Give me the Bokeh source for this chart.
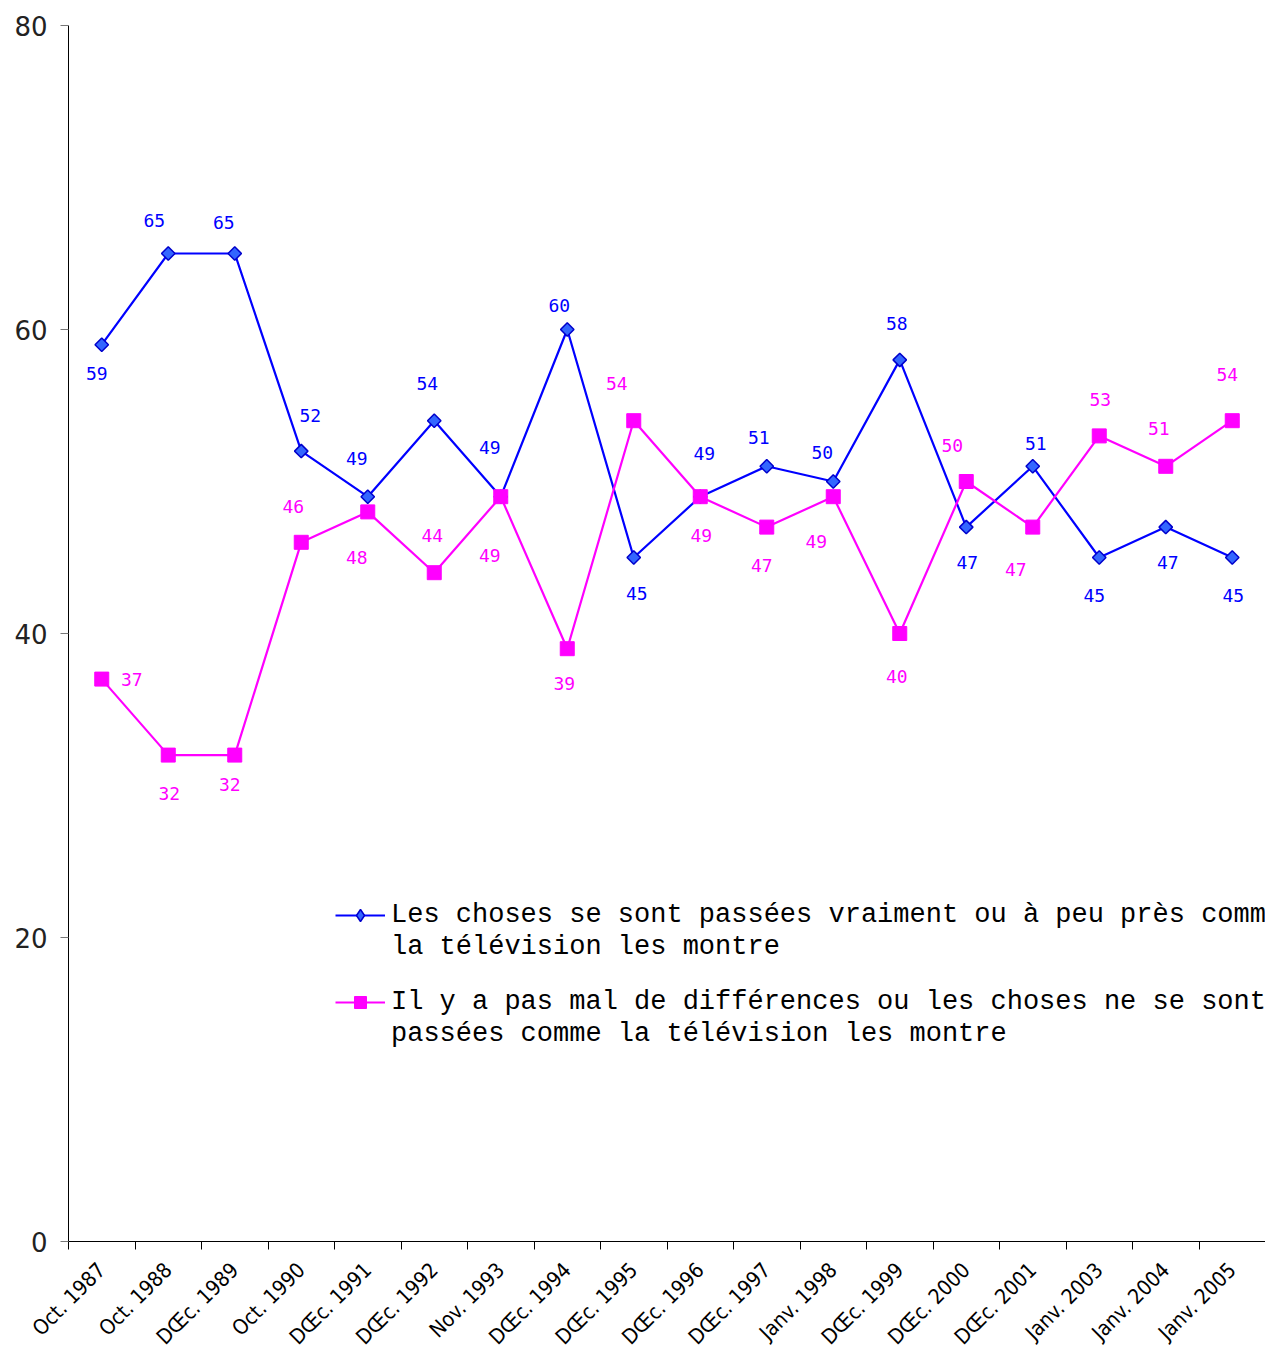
from bokeh.plotting import figure
from bokeh.models import (ColumnDataSource, Range1d, LabelSet, Legend, LegendItem,
                          FixedTicker)
from bokeh.core.properties import value
from bokeh.embed import file_html
from bokeh.resources import INLINE
import math

categories = ["Oct. 1987", "Oct. 1988", "DŒc. 1989", "Oct. 1990", "DŒc. 1991",
              "DŒc. 1992", "Nov. 1993", "DŒc. 1994", "DŒc. 1995", "DŒc. 1996",
              "DŒc. 1997", "Janv. 1998", "DŒc. 1999", "DŒc. 2000", "DŒc. 2001",
              "Janv. 2003", "Janv. 2004", "Janv. 2005"]
vraiment = [59, 65, 65, 52, 49, 54, 49, 60, 45, 49, 51, 50, 58, 47, 51, 45, 47, 45]
differences = [37, 32, 32, 46, 48, 44, 49, 39, 54, 49, 47, 49, 40, 50, 47, 53, 51, 54]
y_ticks = [0, 20, 40, 60, 80]

name_vraiment = ["Les choses se sont passées vraiment ou à peu près comme",
                 "la télévision les montre"]
name_diff = ["Il y a pas mal de différences ou les choses ne se sont",
             "passées comme la télévision les montre"]

# label placement (screen px offsets from each point)
blue_dx = [-5, -14, -11, 9, -11, -7, -11, -8, 3, 4, -8, -11, -3, 1, 3, -5, 2, 1]
blue_dy = [-29, 33, 31, 36, 38, 37, 49, 24, -36, 43, 29, 29, 36, -35, 23, -38, -35, -38]
mag_dx = [30, 1, -5, -8, -11, -2, -11, -3, -17, 1, -5, -17, -3, -14, -17, 1, -7, -5]
mag_dy = [0, -38, -29, 36, -46, 37, -59, -35, 37, -39, -38, -45, -43, 36, -42, 36, 38, 46]

BLUE = "#0000ff"
MAG = "#ff00ff"

n = len(categories)
xpos = list(range(1, n + 1))          # category slots 1..n
bounds = [i + 0.5 for i in range(0, n + 1)]

src_b = ColumnDataSource(dict(x=xpos, y=vraiment, t=[str(v) for v in vraiment],
                              dx=blue_dx, dy=blue_dy))
src_m = ColumnDataSource(dict(x=xpos, y=differences, t=[str(v) for v in differences],
                              dx=mag_dx, dy=mag_dy))

p = figure(width=1265, height=1360, x_range=Range1d(0.5, n + 0.5),
           y_range=Range1d(0, 80), output_backend="svg", toolbar_location=None,
           min_border_left=68, min_border_right=0, min_border_top=25, min_border_bottom=119)
p.outline_line_color = None
p.grid.visible = False

lb = p.line("x", "y", source=src_b, line_color=BLUE, line_width=2.2)
p.scatter("x", "y", source=src_b, marker="square", angle=math.pi / 4, size=9.5,
          fill_color="#3366ff", line_color="#0000cc", line_width=1.5)
lm = p.line("x", "y", source=src_m, line_color=MAG, line_width=2.2)
mm = p.scatter("x", "y", source=src_m, marker="square", size=14,
               fill_color=MAG, line_color=MAG)

for src, col in ((src_b, BLUE), (src_m, MAG)):
    p.add_layout(LabelSet(x="x", y="y", text="t", source=src, x_offset="dx", y_offset="dy",
                          text_align="center", text_baseline="middle", text_color=col,
                          text_font=value("DejaVu Sans Mono"), text_font_size="18px"))

# legend-only renderers (hidden in the plot area)
blank = p.line("x", "y", source=src_b, line_alpha=0, visible=False)
leg_diamond = p.scatter("x", "y", source=src_b, marker="diamond", size=16,
                        fill_color="#3366ff", line_color="#0000cc", line_width=1.5,
                        visible=False)

# y axis
p.yaxis.ticker = FixedTicker(ticks=y_ticks)
p.yaxis.minor_tick_line_color = None
p.yaxis.major_tick_in = 0
p.yaxis.major_tick_out = 8
p.yaxis.major_tick_line_color = "#777777"
p.yaxis.axis_line_color = "black"
p.yaxis.major_label_text_font = "DejaVu Sans"
p.yaxis.major_label_text_font_size = "26px"
p.yaxis.major_label_text_color = "#222222"
p.yaxis.major_label_standoff = 13

# x axis: labels at category centres, ticks at category boundaries
p.xaxis.ticker = FixedTicker(ticks=xpos, minor_ticks=bounds)
p.xaxis.major_label_overrides = {x: c for x, c in zip(xpos, categories)}
p.xaxis.axis_line_color = "black"
p.xaxis.major_tick_line_color = None
p.xaxis.major_tick_in = 0
p.xaxis.major_tick_out = 8
p.xaxis.minor_tick_line_color = "black"
p.xaxis.minor_tick_in = 0
p.xaxis.minor_tick_out = 8
p.xaxis.major_label_orientation = math.radians(45)
p.xaxis.major_label_text_font = "DejaVu Sans Condensed"
p.xaxis.major_label_text_font_size = "21px"
p.xaxis.major_label_text_color = "black"
p.xaxis.major_label_standoff = 17

common = dict(orientation="vertical", label_text_font="Liberation Mono",
              label_text_font_size="27px", label_text_color="black",
              label_standoff=6, glyph_width=50,
              glyph_height=30, label_height=20, spacing=2, padding=0, margin=0,
              border_line_alpha=0, background_fill_alpha=0,
              inactive_fill_alpha=0, click_policy="none")
leg1 = Legend(items=[LegendItem(label=name_vraiment[0], renderers=[lb, leg_diamond]),
                     LegendItem(label=name_vraiment[1], renderers=[blank])],
              location=(267, 279), **common)
leg2 = Legend(items=[LegendItem(label=name_diff[0], renderers=[lm, mm]),
                     LegendItem(label=name_diff[1], renderers=[blank])],
              location=(267, 192), **common)
p.add_layout(leg1)
p.add_layout(leg2)

open("out.html", "w").write(file_html(p, INLINE))
